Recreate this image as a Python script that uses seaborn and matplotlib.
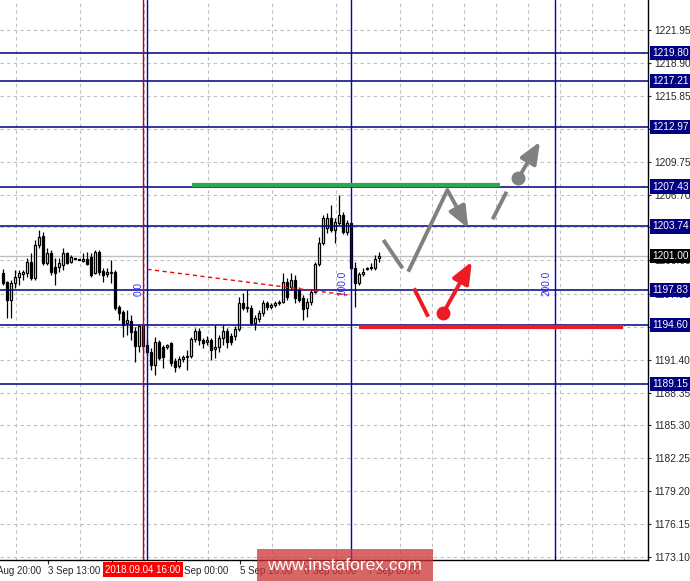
import numpy as np
import pandas as pd
import matplotlib
matplotlib.use('Agg')
import matplotlib.pyplot as plt
import matplotlib.transforms as mtransforms
from matplotlib.patches import Rectangle
import seaborn as sns

# ── H1 candles (one per bar index) ─────────────────────────────
opens = [1199.43, 1198.59, 1196.93, 1198.50, 1199.06, 1199.34, 1199.43, 1200.45, 1198.96, 1202.02,
         1202.86, 1200.35, 1201.28, 1199.98, 1199.98, 1200.17, 1201.28, 1200.45, 1200.82, 1200.73,
         1200.54, 1200.73, 1200.91, 1199.43, 1201.38, 1199.61, 1199.34, 1199.43, 1199.52, 1196.28,
         1195.81, 1194.80, 1194.98, 1194.05, 1192.66, 1192.66, 1192.76, 1192.11, 1190.90, 1193.03,
         1192.57, 1192.57, 1192.94, 1191.27, 1190.81, 1191.46, 1191.64, 1191.74, 1193.31, 1194.05,
         1193.22, 1193.03, 1193.22, 1192.38, 1192.57, 1193.40, 1194.05, 1193.59, 1193.59, 1194.24,
         1196.65, 1196.18, 1196.18, 1194.80, 1195.17, 1195.72, 1196.65, 1196.28, 1196.46, 1196.65,
         1196.74, 1198.59, 1198.13, 1198.78, 1197.85, 1197.11, 1196.18, 1196.74, 1197.67, 1200.26,
         1202.21, 1203.60, 1204.53, 1203.41, 1204.06, 1204.80, 1203.23, 1204.06, 1199.89, 1198.50,
         1199.34, 1199.80, 1199.89, 1199.89, 1200.82]
highs = [1199.80, 1198.69, 1198.78, 1199.71, 1199.71, 1199.71, 1200.82, 1201.28, 1202.49, 1203.41,
         1203.23, 1201.75, 1201.56, 1200.82, 1200.82, 1201.75, 1201.38, 1201.10, 1200.82, 1200.73,
         1201.28, 1201.38, 1201.28, 1201.56, 1201.56, 1199.89, 1199.89, 1200.63, 1199.71, 1196.46,
         1196.00, 1196.00, 1195.54, 1194.42, 1194.61, 1194.61, 1193.22, 1192.48, 1193.50, 1193.22,
         1192.76, 1192.85, 1193.03, 1191.55, 1191.74, 1191.83, 1192.29, 1193.50, 1194.33, 1194.33,
         1193.40, 1193.59, 1193.40, 1194.61, 1193.68, 1194.61, 1194.33, 1193.87, 1194.52, 1197.20,
         1197.57, 1197.85, 1196.46, 1195.54, 1196.00, 1196.93, 1196.83, 1196.65, 1196.83, 1196.93,
         1199.43, 1198.96, 1199.43, 1199.24, 1198.13, 1197.39, 1197.11, 1197.85, 1200.45, 1202.77,
         1204.80, 1204.99, 1205.73, 1204.53, 1206.66, 1205.08, 1204.34, 1204.16, 1200.45, 1199.52,
         1199.89, 1199.98, 1200.35, 1201.10, 1201.38]
lows = [1198.31, 1195.26, 1195.26, 1198.04, 1198.31, 1198.78, 1199.06, 1198.78, 1198.78, 1201.75,
        1200.17, 1200.17, 1199.24, 1198.31, 1199.52, 1199.71, 1200.26, 1200.35, 1200.73, 1200.63,
        1200.45, 1200.17, 1199.06, 1199.34, 1199.24, 1198.59, 1199.06, 1198.50, 1196.00, 1195.07,
        1193.50, 1193.68, 1193.22, 1191.18, 1192.11, 1192.29, 1191.83, 1190.44, 1189.98, 1191.36,
        1190.62, 1192.38, 1190.81, 1190.25, 1190.62, 1191.18, 1190.44, 1191.55, 1193.03, 1192.76,
        1192.48, 1192.76, 1191.36, 1191.55, 1192.11, 1192.76, 1192.48, 1192.76, 1193.22, 1194.05,
        1196.00, 1195.81, 1194.61, 1194.15, 1194.89, 1195.44, 1196.00, 1196.09, 1196.28, 1196.46,
        1196.65, 1196.93, 1197.85, 1196.65, 1196.74, 1195.07, 1195.35, 1196.46, 1197.57, 1200.08,
        1202.02, 1203.14, 1203.23, 1202.21, 1203.88, 1203.04, 1202.95, 1199.71, 1196.28, 1198.31,
        1199.15, 1199.71, 1199.71, 1199.71, 1200.45]
closes = [1198.50, 1196.93, 1198.50, 1199.06, 1199.43, 1199.52, 1200.45, 1198.96, 1202.02, 1202.77,
          1200.35, 1201.28, 1199.52, 1199.43, 1200.35, 1201.28, 1200.35, 1200.91, 1200.73, 1200.63,
          1200.73, 1200.26, 1199.24, 1201.38, 1199.52, 1199.24, 1199.52, 1199.52, 1196.18, 1195.72,
          1194.61, 1195.07, 1193.96, 1192.66, 1194.52, 1194.52, 1192.11, 1190.90, 1193.03, 1191.55,
          1191.64, 1192.76, 1191.09, 1190.72, 1191.46, 1191.64, 1191.74, 1193.31, 1194.05, 1193.22,
          1192.94, 1193.22, 1192.29, 1192.57, 1193.40, 1194.05, 1193.03, 1193.03, 1194.24, 1196.65,
          1196.18, 1196.28, 1194.80, 1195.26, 1195.72, 1196.65, 1196.28, 1196.46, 1196.65, 1196.74,
          1198.59, 1197.20, 1198.78, 1197.11, 1196.93, 1196.09, 1196.74, 1197.67, 1200.26, 1202.21,
          1204.53, 1204.53, 1203.41, 1204.16, 1204.80, 1203.23, 1204.06, 1199.89, 1198.50, 1199.34,
          1199.52, 1199.89, 1199.98, 1200.73, 1201.00]

# ── levels / labels ────────────────────────────────────────────
level_prices = [1219.80, 1217.21, 1212.97, 1207.43, 1203.74, 1197.83, 1194.60, 1189.15]
level_labels = ['1219.80', '1217.21', '1212.97', '1207.43', '1203.74', '1197.83', '1194.60', '1189.15']
last_price = 1201.00

ytick_labels = ['1173.10', '1176.15', '1179.20', '1182.25', '1185.30', '1188.35', '1191.40', '1194.45',
                '1197.50', '1200.60', '1203.65', '1206.70', '1209.75', '1212.80', '1215.85', '1218.90',
                '1221.95']
xtick_bars = [11.2, 27.2, 43.2, 59.2, 75.2, 91.2]
xtick_labels = ['3 Sep 13:00', '4 Sep 08:00', '5 Sep 00:00', '5 Sep 16:00', '6 Sep 08:00', '7 Sep 00:00']
first_label_bar = -4.8
first_label = '31 Aug 20:00'

time_bar = 35
time_label = '2018.09.04 16:00'

fib_bars = [36, 87, 138]
fib_labels = ['0.0', '100.0', '200.0']
fib_line_x = [36.1, 86.1]
fib_line_y = [1199.77, 1197.39]

# forecast drawings (bar index, price)
green_x = [47.25, 124.25]
green_y = [1207.60, 1207.60]
red_level_x = [88.9, 155.0]
red_level_y = [1194.45, 1194.45]

gray_leg1_x = [95.1, 99.9]
gray_leg1_y = [1202.49, 1199.86]
gray_leg2_x = [101.3, 111.1, 116.3]
gray_leg2_y = [1199.55, 1207.12, 1203.57]
gray_leg3_x = [122.4, 125.9]
gray_leg3_y = [1204.41, 1206.96]
gray_dot = (128.8, 1208.20)
gray_tip = (134.25, 1211.60)

red_leg_x = [102.75, 106.3]
red_leg_y = [1198.01, 1195.38]
red_dot = (110.1, 1195.75)
red_tip = (117.2, 1200.48)

# ── style ──────────────────────────────────────────────────────
sns.set_style("white")
plt.rcParams['font.family'] = ['Liberation Sans', 'DejaVu Sans']
plt.rcParams['font.size'] = 7

NAVY = '#000080'
FIB_BLUE = '#0000c8'
GRAY = '#808080'
RED = '#ed1c24'
GRID = '#c0c0c0'

fig = plt.figure(figsize=(6.9, 5.81), dpi=100)
ax = fig.add_axes([0, 21 / 581, 648 / 690, 560 / 581])

df = pd.DataFrame({'open': opens, 'high': highs, 'low': lows, 'close': closes})
df['bar'] = np.arange(len(df))
df['up'] = df['close'] >= df['open']

# grid
ytick_vals = [float(t) for t in ytick_labels]
ax.set_yticks(ytick_vals)
ax.set_yticklabels(ytick_labels)
ax.yaxis.tick_right()
ax.set_xticks(xtick_bars)
ax.set_xticklabels(xtick_labels, ha='left')
ax.set_xticks(np.arange(3.2, 162, 8), minor=True)
ax.grid(True, which='minor', axis='x', color=GRID, linestyle=(0, (3, 3)), lw=0.8)
ax.grid(True, which='major', axis='y', color=GRID, linestyle=(0, (3, 3)), lw=0.8)
ax.set_axisbelow(True)
ax.tick_params(axis='y', which='major', direction='out', length=2.5, width=0.8, pad=2,
               right=True, left=False, labelsize=7.3)
ax.tick_params(axis='x', which='major', direction='out', length=3, width=0.8, pad=1.5,
               bottom=True, labelsize=7)
ax.tick_params(axis='x', which='minor', length=0)

# candles
ax.vlines(df['bar'], df['low'], df['high'], color='black', lw=0.9, zorder=3)
body_bot = df[['open', 'close']].min(axis=1)
body_h = (df['close'] - df['open']).abs()
ax.bar(df['bar'], body_h, bottom=body_bot, width=0.68,
       color=np.where(df['up'], 'white', 'black'), edgecolor='black', lw=0.9, zorder=4)

# horizontal levels
for p in level_prices:
    ax.axhline(p, color=NAVY, lw=1.1, zorder=5)
ax.axhline(last_price, color=GRID, lw=1.0, zorder=2)

# vertical lines
ax.axvline(time_bar, color='#cc0000', lw=1.0, zorder=5)
for b in fib_bars:
    ax.axvline(b, color=FIB_BLUE, lw=1.0, zorder=5)
for b, t in zip(fib_bars, fib_labels):
    ax.text(b - 0.9, 1197.3, t, rotation=90, ha='right', va='bottom', color='#3030ff',
            fontsize=7.3, zorder=6)
sns.lineplot(x=fib_line_x, y=fib_line_y, ax=ax, color='red', lw=1.0,
             linestyle=(0, (3, 2.5)), zorder=6)

# forecast drawings
ax.plot(green_x, green_y, color='#2ea84f', lw=3, solid_capstyle='butt', zorder=6)
ax.plot(red_level_x, red_level_y, color=RED, lw=3, solid_capstyle='butt', zorder=6)

arrow_style = '-|>,head_length=0.65,head_width=0.27'
ax.plot(gray_leg1_x, gray_leg1_y, color=GRAY, lw=2.8, solid_capstyle='butt', zorder=7)
ax.plot(gray_leg2_x[:2], gray_leg2_y[:2], color=GRAY, lw=2.8, solid_capstyle='butt', zorder=7)
ax.annotate('', xy=(gray_leg2_x[2], gray_leg2_y[2]), xytext=(gray_leg2_x[1], gray_leg2_y[1]),
            arrowprops=dict(arrowstyle=arrow_style, color=GRAY, lw=2.8, mutation_scale=20,
                            shrinkA=0, shrinkB=0), zorder=7)
ax.plot(gray_leg3_x, gray_leg3_y, color=GRAY, lw=2.8, solid_capstyle='butt', zorder=7)
ax.annotate('', xy=gray_tip, xytext=gray_dot,
            arrowprops=dict(arrowstyle=arrow_style, color=GRAY, lw=2.8, mutation_scale=20,
                            shrinkA=0, shrinkB=0), zorder=7)
ax.plot(*gray_dot, 'o', color=GRAY, ms=9, zorder=8)

ax.plot(red_leg_x, red_leg_y, color=RED, lw=2.8, solid_capstyle='butt', zorder=7)
ax.annotate('', xy=red_tip, xytext=red_dot,
            arrowprops=dict(arrowstyle=arrow_style, color=RED, lw=2.8, mutation_scale=20,
                            shrinkA=0, shrinkB=0), zorder=7)
ax.plot(*red_dot, 'o', color=RED, ms=9, zorder=8)

# axes range & frame
ax.set_xlim(-0.75, 161.25)
ax.set_ylim(1172.83, 1224.73)
for s in ['top', 'left']:
    ax.spines[s].set_visible(False)
for s in ['right', 'bottom']:
    ax.spines[s].set_color('black')
    ax.spines[s].set_linewidth(1.0)

# price labels on the right axis
ytrans = mtransforms.blended_transform_factory(ax.transAxes, ax.transData)
for p, t in zip(level_prices, level_labels):
    ax.text(1.0065, p, t, transform=ytrans, ha='left', va='center', color='white', fontsize=7.3,
            bbox=dict(boxstyle='square,pad=0.22', fc=NAVY, ec='none'), clip_on=False, zorder=10)
ax.text(1.0065, last_price, f'{last_price:.2f}', transform=ytrans, ha='left', va='center',
        color='white', fontsize=7.3, bbox=dict(boxstyle='square,pad=0.22', fc='black', ec='none'),
        clip_on=False, zorder=10)

# time labels
xtrans = mtransforms.blended_transform_factory(ax.transData, ax.transAxes)
ax.text(first_label_bar, -0.0112, first_label, transform=xtrans, ha='left', va='top',
        fontsize=7, clip_on=False)
ax.text(time_bar, -0.0175, time_label, transform=xtrans, ha='center', va='center', color='white',
        fontsize=7, bbox=dict(boxstyle='square,pad=0.25', fc='red', ec='none'), clip_on=False,
        zorder=10)

# watermark
fig.add_artist(Rectangle((257 / 690, 0), 176 / 690, 32 / 581, transform=fig.transFigure,
                         fc='#cc3333', ec='none', alpha=0.75, zorder=20))
fig.text(344 / 690, (581 - 565) / 581, 'www.instaforex.com', ha='center', va='center',
         color='white', fontsize=12.5, zorder=21)

fig.savefig('out.png', dpi=100)
